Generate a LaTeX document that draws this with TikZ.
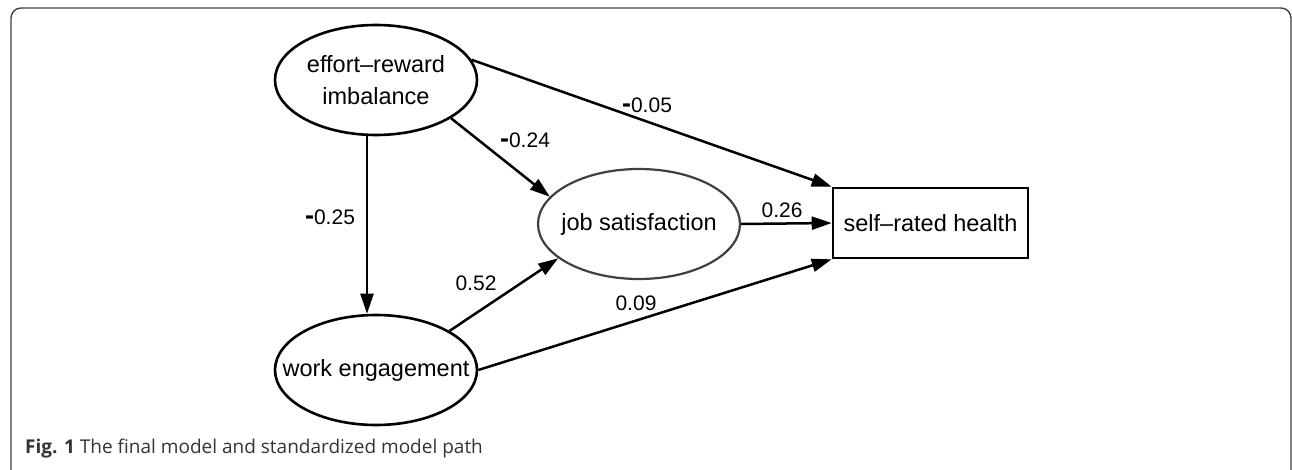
\documentclass[tikz,border=0pt]{standalone}
\usepackage{fontspec}
\setmainfont{Liberation Sans}
\newfontfamily\capfont{Open Sans}
\usetikzlibrary{shapes.geometric,arrows.meta}
\newcommand{\mns}{{\fontsize{27}{27}\selectfont\bfseries -}}
\begin{document}
\begin{tikzpicture}[x=1pt,y=-1pt,
  ell/.style={ellipse,draw=black,line width=2.6pt,minimum width=202pt,minimum height=110pt,inner sep=0pt},
  lbl/.style={font=\fontsize{23.5}{32}\selectfont,align=center,inner sep=0pt},
  coef/.style={font=\fontsize{21}{24}\selectfont,inner sep=0pt},
  arr/.style={line width=2.5pt,-{Triangle[length=20pt,width=13pt]}},
  frame/.style={draw=black!75,line width=1.4pt,rounded corners=10pt},
  ]
\clip (0,0) rectangle (1292,470);
\draw[frame] (11,8) rectangle (1291,485);

\node[ell,label={[lbl]center:effort–reward\\imbalance}] (eri) at (376,80) {};
\node[ell,draw=black!75,line width=2.2pt,label={[lbl]center:job satisfaction}] (js) at (639,224) {};
\node[ell,label={[lbl]center:work engagement}] (we) at (376,370) {};
\node[draw=black,line width=2.6pt,minimum width=195pt,minimum height=70pt,inner sep=0pt,font=\fontsize{23.5}{28}\selectfont] (srh) at (930.5,223) {self–rated health};

\coordinate (vx) at (367,0);
\draw[arr] (eri.south -| vx) -- (we.north -| vx);
\draw[arr] (eri.12) -- (srh.north west);
\draw[arr] (eri.-27) -- (js.163);
\draw[arr] (we.28) -- (js.203);
\draw[arr] (js.east) -- (srh.west);
\draw[arr] (we.east) -- (srh.south west);

\node[coef] (c1) at (647,105) {\mns0.05};
\node[coef] (c2) at (525,140) {\mns0.24};
\node[coef] (c3) at (330,217) {\mns0.25};
\node[coef] (c4) at (476,283) {0.52};
\node[coef] (c5) at (782,210) {0.26};
\node[coef] (c6) at (636,303) {0.09};

\node[anchor=west,inner sep=0pt,text=black!80,font=\capfont\fontsize{19}{22}\selectfont] (cap) at (25,449) {\textbf{Fig. 1} The final model and standardized model path};
\end{tikzpicture}
\end{document}
